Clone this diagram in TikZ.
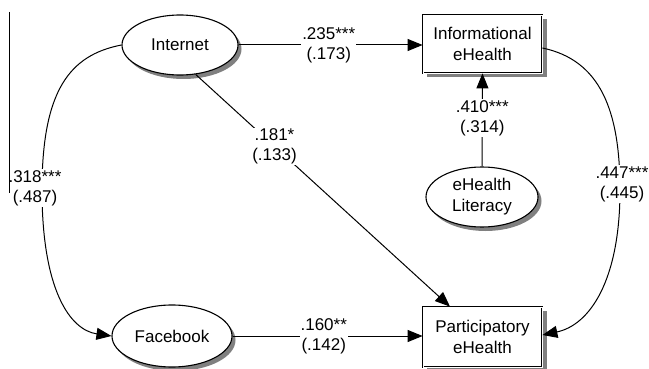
\documentclass[tikz,border=0pt]{standalone}
\usepackage{fontspec}
\setmainfont{Liberation Sans}
\usetikzlibrary{shapes.geometric,arrows.meta}
\begin{document}
\begin{tikzpicture}[x=1pt,y=-1pt,
  txt/.style={font=\fontsize{17}{21}\selectfont, align=center},
  oval/.style={txt, ellipse, draw=black, line width=1.1pt, fill=white, inner sep=0pt},
  box/.style={txt, rectangle, draw=black, line width=0.8pt, double=white, double distance=0.9pt,
    fill=white, inner sep=0pt, minimum width=119pt},
  shade/.style={fill=black!50},
  lab/.style={txt, fill=white, inner sep=1pt, font=\fontsize{17}{20}\selectfont},
  arr/.style={line width=1pt, -{Triangle[length=15pt,width=12pt]}}]
\useasboundingbox (0,0) rectangle (649,369);
% shadows
\fill[shade] (183.5,49) ellipse [x radius=58pt, y radius=30pt];
\fill[shade] (175.5,340) ellipse [x radius=60pt, y radius=31pt];
\fill[shade] (485.5,201) ellipse [x radius=56pt, y radius=30pt];
\fill[shade] (427,19) rectangle (546.5,77);
\fill[shade] (427,311) rectangle (546.5,372);
% nodes
\node[oval, minimum width=116pt, minimum height=60pt] (inet) at (180,45) {Internet};
\node[oval, minimum width=120pt, minimum height=62pt] (fb) at (172,336) {Facebook};
\node[oval, minimum width=112pt, minimum height=60pt] (lit) at (482,197) {eHealth\\Literacy};
\node[box, minimum height=58pt] (info) at (482.5,44) {Informational\\eHealth};
\node[box, minimum height=60pt] (part) at (482.5,337) {Participatory\\eHealth};
% connectors
\draw[arr] (inet.east) -- (inet.east -| info.west)
  node[lab, pos=0.49] (l235) {.235***\\(.173)};
\draw[arr] (fb.east) -- (fb.east -| part.west)
  node[lab, pos=0.48] (l160) {.160**\\(.142)};
\draw[arr] (lit.north) -- (info.south)
  node[lab, pos=0.52] (l410) {.410***\\(.314)};
\draw[arr] (inet.-62) -- (part.north west -| 450,0)
  node[lab, pos=0.31] (l181) {.181*\\(.133)};
\draw[arr] (inet.west) .. controls (70,55) and (42,90) .. (42,190)
  .. controls (42,290) and (70,330) .. (fb.west);
\draw[arr] (info.east |- 0,48) .. controls (600,60) and (620,110) .. (620,190)
  .. controls (620,280) and (590,325) .. (part.east |- 0,335);
\node[lab] (l318) at (35,188) {.318***\\(.487)};
\node[lab] (l447) at (622,184) {.447***\\(.445)};
% left vertical rule
\draw[line width=1pt] (9,12) -- (9,193);
\end{tikzpicture}
\end{document}
